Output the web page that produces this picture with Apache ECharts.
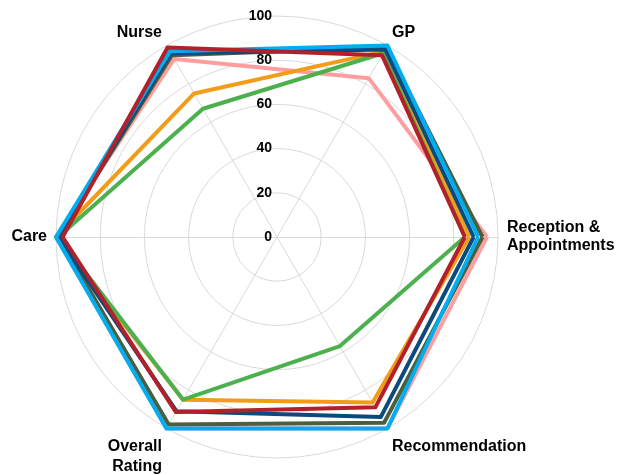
<!DOCTYPE html>
<html>
<head>
<meta charset="utf-8">
<script src="https://cdn.jsdelivr.net/npm/echarts@6/dist/echarts.min.js"></script>
<style>
  html, body { margin: 0; padding: 0; background: #fff; }
  #chart { width: 633px; height: 475px; }
</style>
</head>
<body>
<div id="chart"></div>
<script>
// indicators, counter-clockwise from the right
var categories = ['Reception &\nAppointments', 'GP', 'Nurse', 'Care', 'Overall\nRating', 'Recommendation'];
var tickLabels = [0, 20, 40, 60, 80, 100];

// one array per line, same order as categories
var pinkVals   = [95, 83, 93, 100, 100, 100];
var orangeVals = [87, 97, 75, 100, 85, 86.5];
var greenVals  = [85, 96, 67, 99, 85, 57];
var oliveVals  = [93, 99, 95, 99, 98, 97];
var navyVals   = [89, 98, 96, 99, 91, 94];
var blueVals   = [91, 100, 97, 100, 100, 100];
var redVals    = [85, 95, 99, 97, 91.5, 89];

var seriesList = [
  { name: 's1', values: pinkVals,   color: '#FF9E9E' },
  { name: 's2', values: orangeVals, color: '#F29C1A' },
  { name: 's3', values: greenVals,  color: '#4DB04F' },
  { name: 's4', values: oliveVals,  color: '#4A5E40' },
  { name: 's5', values: navyVals,   color: '#0B4A7E' },
  { name: 's6', values: blueVals,   color: '#00AEEF' },
  { name: 's7', values: redVals,    color: '#B2202A' }
];

var chart = echarts.init(document.getElementById('chart'));
var center = [277, 237];
var radius = 221;

// nudge some names a bit further out, like the original
var nameStyle = { 'GP': 'up', 'Nurse': 'up', 'Recommendation': 'down' };

var option = {
  animation: false,
  polar: { center: center, radius: radius },
  angleAxis: {
    type: 'value', min: 0, max: 360, startAngle: 90,
    show: false
  },
  radiusAxis: {
    type: 'value', min: 0, max: 100, interval: 20,
    axisLine: { show: false },
    axisTick: { show: false },
    splitLine: { show: false },
    axisLabel: {
      color: '#000', fontWeight: 'bold', fontSize: 14, margin: 5,
      fontFamily: 'Liberation Sans, Arial, sans-serif',
      formatter: function (v) { return tickLabels.indexOf(v) >= 0 ? String(v) : ''; }
    },
    z: 20
  },
  radar: {
    center: center,
    radius: radius,
    startAngle: 0,
    shape: 'circle',
    splitNumber: 5,
    nameGap: 9,
    indicator: categories.map(function (c) { return { name: c, min: 0, max: 100 }; }),
    axisName: {
      color: '#000', fontWeight: 'bold', fontSize: 16,
      fontFamily: 'Liberation Sans, Arial, sans-serif',
      lineHeight: 18,
      formatter: function (name) {
        if (name === 'Overall\nRating') {
          return '{sp| }\n{n|Overall}\n{n|Rating}';
        }
        var k = nameStyle[name];
        return k ? '{' + k + '|' + name + '}' : name;
      },
      rich: {
        sp: { fontSize: 4, lineHeight: 40 },
        n: { fontWeight: 'bold', fontSize: 16, lineHeight: 20 },
        up: { fontWeight: 'bold', fontSize: 16, lineHeight: 18, padding: [0, 0, 11, 0] },
        down: { fontWeight: 'bold', fontSize: 16, lineHeight: 18, padding: [20, 0, 0, 0] }
      }
    },
    splitLine: { lineStyle: { color: '#d9d9d9', width: 1 } },
    splitArea: { show: false },
    axisLine: { lineStyle: { color: '#d9d9d9', width: 1 } },
    axisTick: { show: false },
    axisLabel: { show: false }
  },
  series: seriesList.map(function (s, i) {
    return {
      type: 'radar',
      name: s.name,
      symbol: 'none',
      z: 2 + i,
      lineStyle: { color: s.color, width: 4 },
      itemStyle: { color: s.color },
      data: [{ value: s.values, name: s.name }]
    };
  })
};
chart.setOption(option);
</script>
</body>
</html>
